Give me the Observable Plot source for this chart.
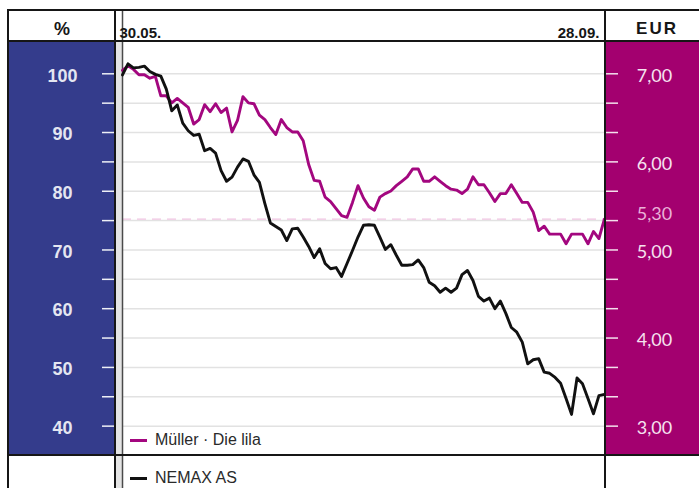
<!DOCTYPE html>
<html><head><meta charset="utf-8">
<script src="https://cdn.jsdelivr.net/npm/d3@7"></script>
<script src="https://cdn.jsdelivr.net/npm/@observablehq/plot@0.6"></script>
<style>
html,body{margin:0;padding:0;background:#fff;}
#wrap{position:relative;width:699px;height:488px;overflow:hidden;font-family:"Liberation Sans",Arial,sans-serif;}
.abs{position:absolute;}
.line{position:absolute;background:#161616;}
.leg{position:absolute;display:flex;align-items:center;height:20px;font-size:16px;color:#2a2a2a;white-space:nowrap;}
.leg .sw{display:inline-block;width:17px;height:3px;margin-right:8px;}
.hdr{position:absolute;font-weight:bold;color:#161616;transform:translate(-50%,-50%);white-space:nowrap;}
</style></head><body>
<div id="wrap">
  <div class="abs" style="left:9px;top:42px;width:105px;height:412px;background:#343c8c"></div>
  <div class="abs" style="left:116px;top:42px;width:6px;height:446px;background:#e4e4e4"></div>
  <div class="abs" style="left:606px;top:42px;width:93px;height:412px;background:#a3006f"></div>
  <div id="chart" class="abs" style="left:0;top:0"></div>
  <div class="line" style="left:7px;top:9px;width:692px;height:2px"></div>
  <div class="line" style="left:7px;top:9px;width:2px;height:479px"></div>
  <div class="line" style="left:7px;top:40px;width:692px;height:2px"></div>
  <div class="line" style="left:7px;top:454px;width:692px;height:1.5px"></div>
  <div class="line" style="left:114px;top:9px;width:2px;height:479px"></div>
  <div class="line" style="left:604px;top:9px;width:2px;height:479px"></div>
  <div id="hdrL" class="hdr" style="left:62px;top:29px;font-size:18px"></div>
  <div id="hdrR" class="hdr" style="left:657px;top:29px;font-size:17px;letter-spacing:2px"></div>
  <div id="legend"></div>
</div>
<script>
// NEMAX All Share, indexed (%), one value per trading day 30.05. - 28.09.
const nemax = [99.8, 101.7, 101.0, 101.1, 101.3, 100.4, 99.9, 99.6, 97.4, 93.7,
  94.7, 91.6, 90.3, 89.5, 89.7, 86.9, 87.3, 86.5, 83.5, 81.7,
  82.4, 84.1, 85.5, 85.1, 82.8, 81.5, 77.9, 74.6, 74.0, 73.4,
  71.6, 73.6, 73.7, 72.2, 70.6, 68.7, 70.2, 67.7, 66.8, 67.0,
  65.5, 67.7, 69.9, 72.2, 74.2, 74.3, 74.2, 72.2, 70.1, 70.9,
  69.1, 67.4, 67.4, 67.5, 68.3, 67.0, 64.5, 63.9, 62.8, 63.5,
  62.8, 63.5, 65.8, 66.5, 64.8, 62.1, 61.3, 61.8, 60.0, 61.3,
  59.2, 56.8, 56.0, 54.3, 50.6, 51.3, 51.5, 49.2, 49.0, 48.3,
  47.3, 44.7, 42.0, 48.2, 47.2, 44.7, 42.1, 45.2, 45.4];
// Müller · Die lila share price (EUR)
const mueller = [7.04, 7.09, 7.05, 6.99, 6.99, 6.95, 6.97, 6.75, 6.75, 6.67,
  6.72, 6.67, 6.62, 6.43, 6.48, 6.65, 6.57, 6.66, 6.56, 6.61,
  6.34, 6.47, 6.74, 6.67, 6.66, 6.53, 6.48, 6.39, 6.31, 6.48,
  6.39, 6.34, 6.34, 6.24, 5.97, 5.79, 5.78, 5.60, 5.55, 5.47,
  5.39, 5.37, 5.54, 5.73, 5.59, 5.49, 5.45, 5.60, 5.64, 5.67,
  5.73, 5.78, 5.83, 5.92, 5.92, 5.78, 5.78, 5.83, 5.78, 5.73,
  5.69, 5.68, 5.64, 5.69, 5.83, 5.74, 5.74, 5.65, 5.55, 5.64,
  5.64, 5.74, 5.64, 5.54, 5.54, 5.43, 5.22, 5.27, 5.18, 5.18,
  5.18, 5.07, 5.18, 5.18, 5.18, 5.07, 5.21, 5.13, 5.35];
const seriesNames = ["Müller · Die lila", "NEMAX AS"];
const seriesColors = ["#a3077f", "#111111"];
const dateTickIndex = [0, 88];
const dateTickLabels = ["30.05.", "28.09."];
const pctGrid = [40, 45, 50, 55, 60, 65, 70, 75, 80, 85, 90, 95, 100];
const pctLabels = [40, 50, 60, 70, 80, 90, 100];
const eurLabels = [3, 4, 5, 6, 7];
const lastPriceLabel = "5,30";
const unitLeft = "%", unitRight = "EUR";

const toPct = e => 100 - (7 - e) * 15;
const lastPrice = mueller[mueller.length - 1];
const fmtEur = d => d.toFixed(2).replace(".", ",");

const chart = Plot.plot({
  width: 699, height: 488,
  marginTop: 41, marginBottom: 33, marginLeft: 122, marginRight: 94,
  style: {background: "transparent", fontFamily: "Liberation Sans, Arial, sans-serif", overflow: "visible"},
  x: {domain: [0, 88.2], axis: null},
  y: {domain: [35, 105.5], axis: null, label: null},
  marks: [
    Plot.gridY(pctGrid, {stroke: "#e2e2e2", strokeOpacity: 1, strokeWidth: 1.5}),
    Plot.ruleY([lastPrice], {y: toPct, stroke: "#efc4e1", strokeWidth: 1.3, strokeDasharray: "9,6"}),
    Plot.axisY(pctGrid, {anchor: "left", tickSize: 12, dx: -8, stroke: "#eef0f6", strokeWidth: 1.5, fill: "none", label: null}),
    Plot.axisY(pctGrid, {anchor: "right", tickSize: 12, stroke: "#f3e0ec", strokeWidth: 1.5, fill: "none", label: null}),
    Plot.text(pctLabels, {y: d => d, text: d => String(d), frameAnchor: "left", dx: -60, dy: 2, textAnchor: "middle",
      fill: "#e4e6f1", fontSize: 18, fontWeight: "bold"}),
    Plot.text(eurLabels, {y: toPct, text: fmtEur, frameAnchor: "right", dx: 49, dy: 2, textAnchor: "middle",
      fill: "#f6e2f0", fontSize: 18, fontFamily: "Lato"}),
    Plot.text([lastPrice], {y: toPct, text: () => lastPriceLabel, frameAnchor: "right", dx: 49, dy: -5, textAnchor: "middle",
      fill: "#eab1d8", fontSize: 18, fontFamily: "Lato"}),
    Plot.ruleX([dateTickIndex[0]], {stroke: "#4a4a4a", strokeWidth: 1.5, insetTop: -31, insetBottom: -33}),
    Plot.text([0], {x: () => dateTickIndex[0], text: () => dateTickLabels[0], frameAnchor: "top", dy: -14.5, dx: -3,
      textAnchor: "start", fontWeight: "bold", fontSize: 15, fill: "#161616"}),
    Plot.text([0], {x: () => dateTickIndex[1], text: () => dateTickLabels[1], frameAnchor: "top", dy: -14.5, dx: -5,
      textAnchor: "end", fontWeight: "bold", fontSize: 15, fill: "#161616"}),
    Plot.line(mueller, {x: (d, i) => i, y: toPct, stroke: seriesColors[0], strokeWidth: 2.9}),
    Plot.line(nemax, {x: (d, i) => i, y: d => d, stroke: seriesColors[1], strokeWidth: 2.9})
  ]
});
document.getElementById("chart").append(chart);
document.getElementById("hdrL").textContent = unitLeft;
document.getElementById("hdrR").textContent = unitRight;

const legTops = [430, 468];
const leg = document.getElementById("legend");
seriesNames.forEach((name, k) => {
  const item = document.createElement("div");
  item.className = "leg";
  item.style.left = "130px";
  item.style.top = legTops[k] + "px";
  const sw = document.createElement("span");
  sw.className = "sw";
  sw.style.background = seriesColors[k];
  const tx = document.createElement("span");
  tx.textContent = name;
  item.append(sw, tx);
  leg.append(item);
});
</script>
</body></html>
